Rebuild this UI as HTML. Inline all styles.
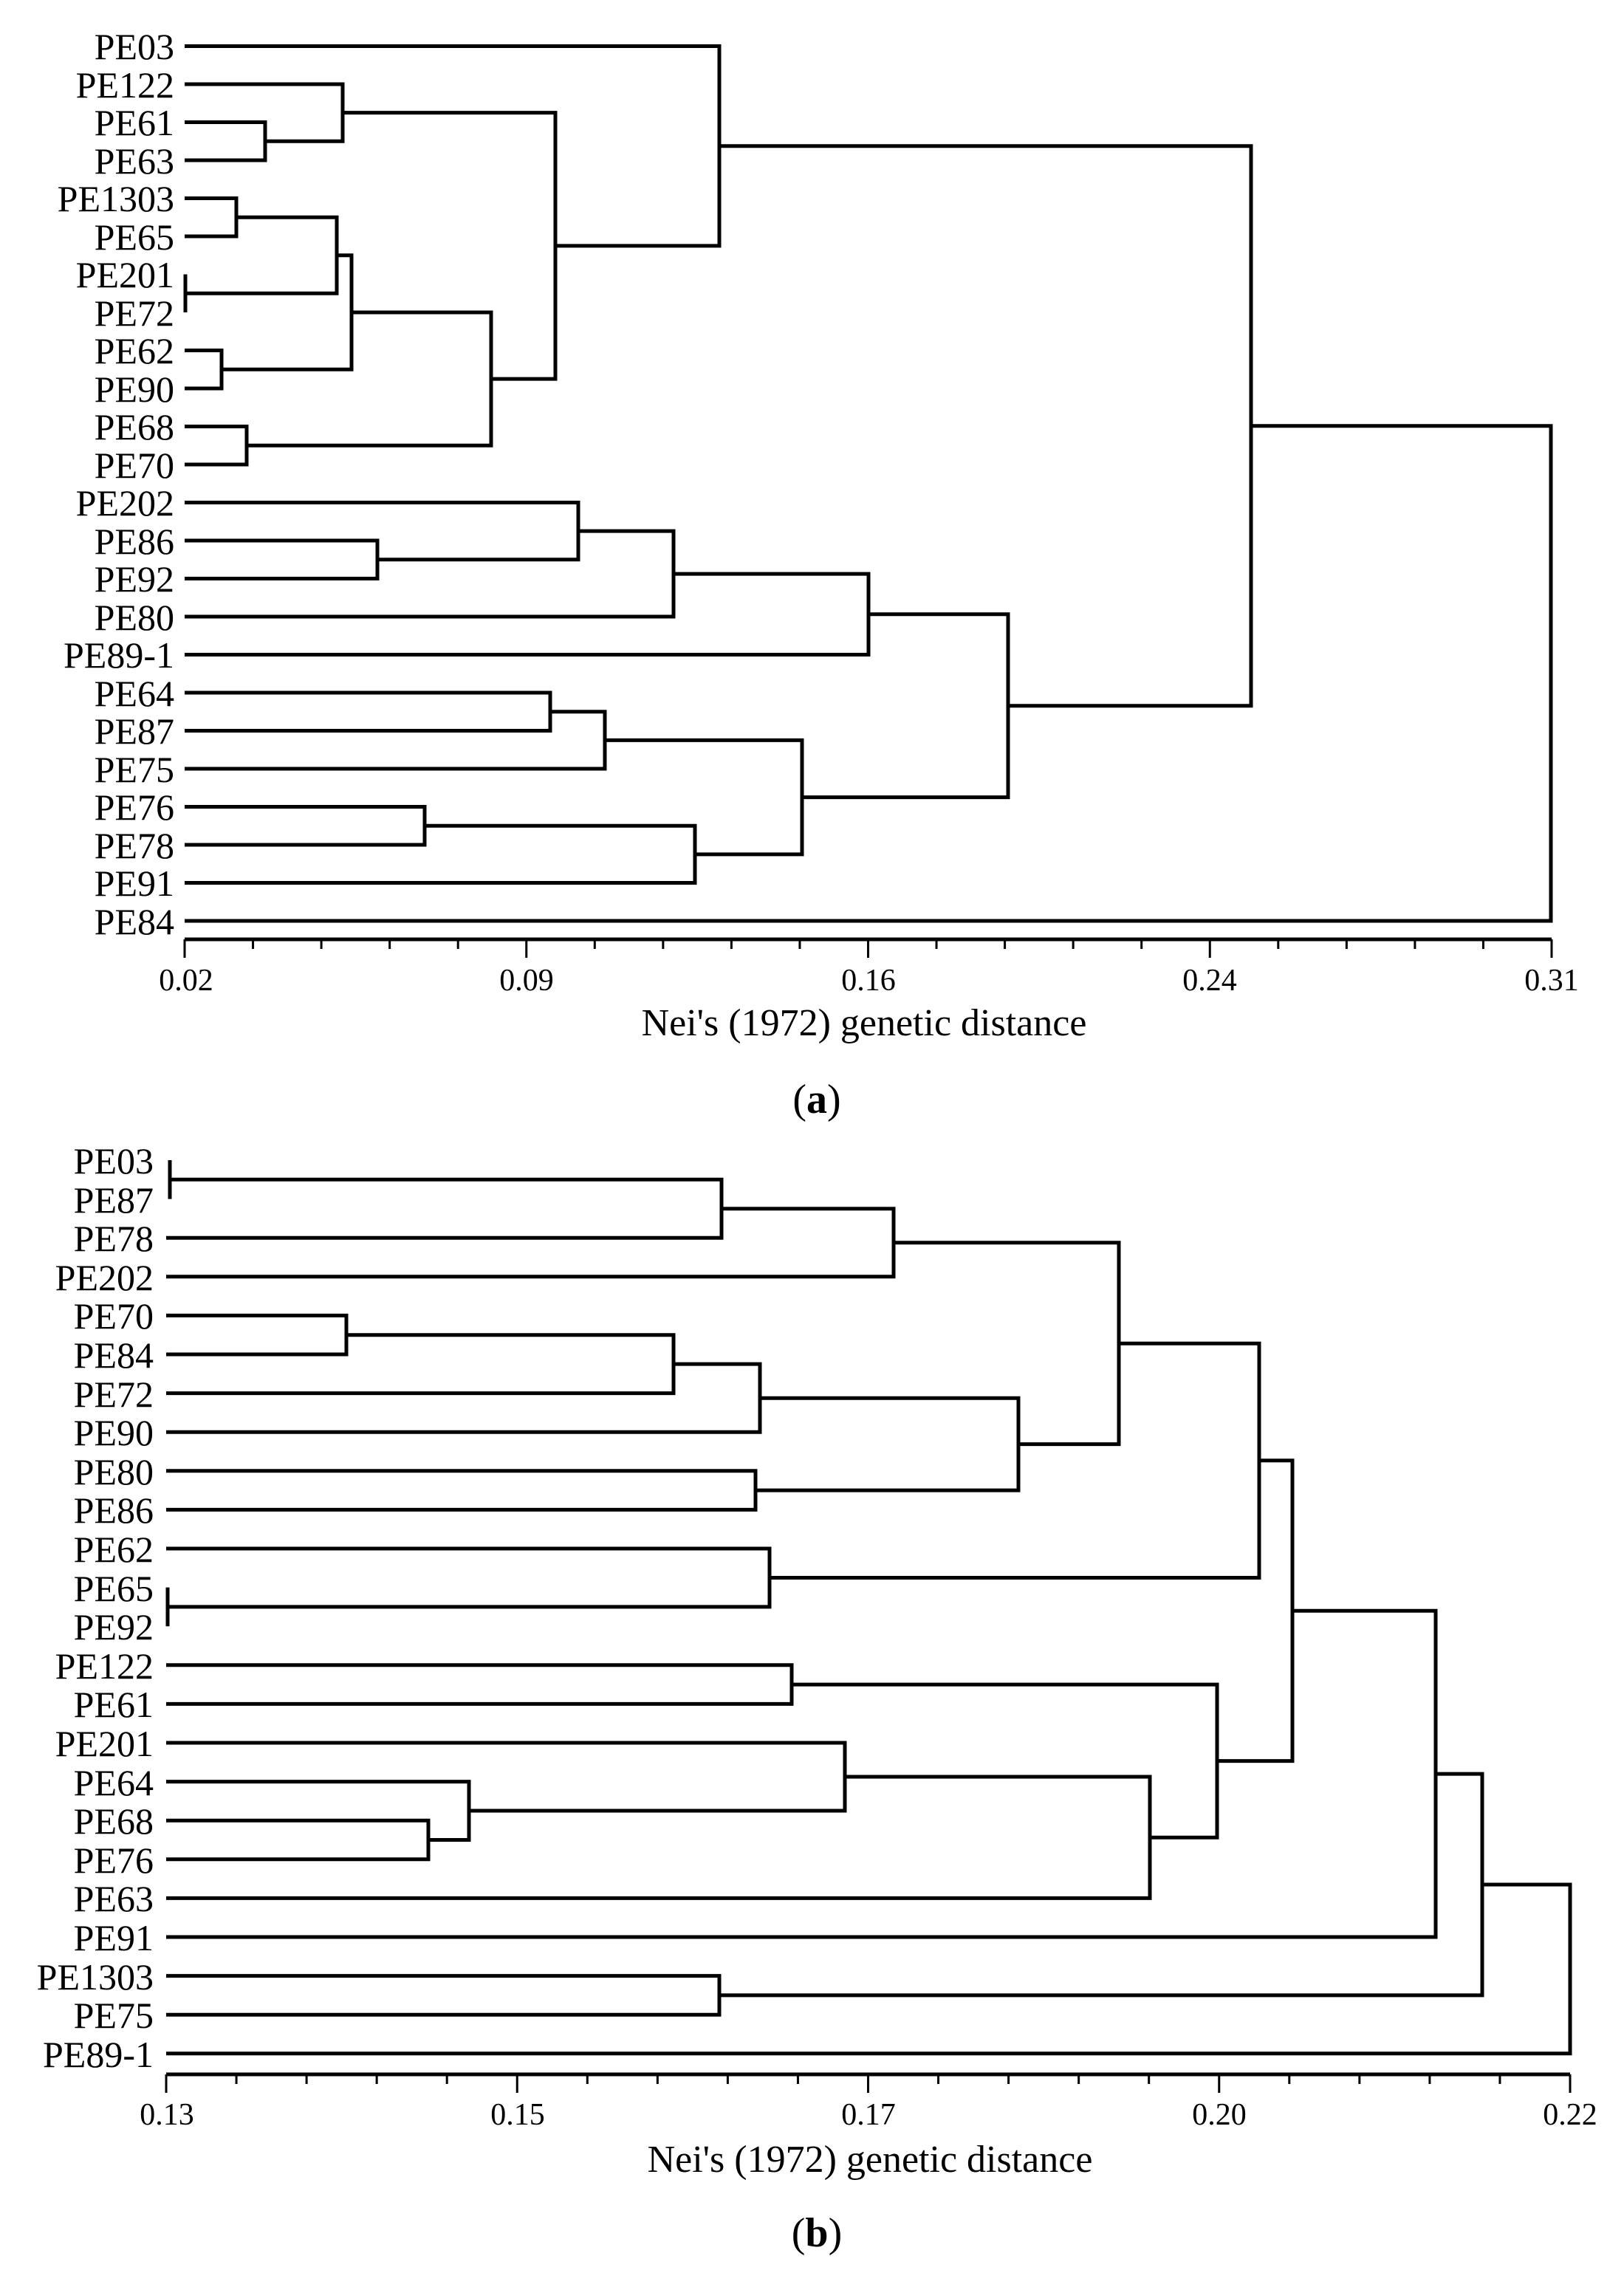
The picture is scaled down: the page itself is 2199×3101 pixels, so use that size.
<!DOCTYPE html>
<html><head><meta charset="utf-8"><style>
html,body{margin:0;padding:0;background:#fff}
svg{display:block}
text{font-family:"Liberation Serif",serif;fill:#000}
.l{font-size:50px;text-anchor:end}
.t{font-size:42px;text-anchor:middle}
.ti{font-size:52px;text-anchor:middle}
.d{fill:none;stroke:#000;stroke-width:5;stroke-linejoin:miter}
.k{fill:none;stroke:#000;stroke-width:3}
</style></head><body>
<svg width="2199" height="3101" viewBox="0 0 2199 3101" xmlns="http://www.w3.org/2000/svg">
<g class="l">
<text x="236" y="80">PE03</text><text x="236" y="132">PE122</text><text x="236" y="183">PE61</text><text x="236" y="235">PE63</text>
<text x="236" y="286">PE1303</text><text x="236" y="338">PE65</text><text x="236" y="389">PE201</text><text x="236" y="441">PE72</text>
<text x="236" y="492">PE62</text><text x="236" y="544">PE90</text><text x="236" y="595">PE68</text><text x="236" y="647">PE70</text>
<text x="236" y="698">PE202</text><text x="236" y="750">PE86</text><text x="236" y="801">PE92</text><text x="236" y="853">PE80</text>
<text x="236" y="904">PE89-1</text><text x="236" y="956">PE64</text><text x="236" y="1007">PE87</text><text x="236" y="1059">PE75</text>
<text x="236" y="1110">PE76</text><text x="236" y="1162">PE78</text><text x="236" y="1213">PE91</text><text x="236" y="1265">PE84</text>
</g>
<g class="d">
<path d="M250 165.5 H359 V217 H250"/><path d="M250 114 H464 V191.25 H359"/><path d="M250 268.5 H320 V320 H250"/>
<path d="M251 371.5 V423"/><path d="M320 294.25 H456 V397.25 H251"/><path d="M250 474.5 H300 V526 H250"/>
<path d="M456 345.75 H476 V500.25 H300"/><path d="M250 577.5 H334 V629 H250"/><path d="M476 423 H665 V603.25 H334"/>
<path d="M464 152.6 H752 V513.1 H665"/><path d="M250 62.5 H974 V332.9 H752"/>
<path d="M250 732 H511 V783.5 H250"/><path d="M250 680.5 H783 V757.75 H511"/><path d="M783 719.1 H912 V835 H250"/>
<path d="M912 777.1 H1176 V886.5 H250"/><path d="M250 938 H745 V989.5 H250"/><path d="M745 963.75 H819 V1041 H250"/>
<path d="M250 1092.5 H575 V1144 H250"/><path d="M575 1118.25 H941 V1195.5 H250"/><path d="M819 1002.4 H1086 V1156.9 H941"/>
<path d="M1176 831.8 H1365 V1079.6 H1086"/><path d="M974 197.7 H1694 V955.7 H1365"/><path d="M1694 576.7 H2100 V1247 H250"/>
<path d="M250 1272 H2101"/>
</g>
<path class="k" d="M250 1272V1297M342.55 1272V1285M435.1 1272V1285M527.65 1272V1285M620.2 1272V1285M712.75 1272V1297M805.3 1272V1285M897.85 1272V1285M990.4 1272V1285M1082.95 1272V1285M1175.5 1272V1297M1268.05 1272V1285M1360.6 1272V1285M1453.15 1272V1285M1545.7 1272V1285M1638.25 1272V1297M1730.8 1272V1285M1823.35 1272V1285M1915.9 1272V1285M2008.45 1272V1285M2101 1272V1297"/>
<g class="t">
<text x="252" y="1341">0.02</text><text x="713" y="1341">0.09</text><text x="1176" y="1341">0.16</text><text x="1638" y="1341">0.24</text><text x="2101" y="1341">0.31</text>
</g>
<text class="ti" x="1170" y="1402">Nei's (1972) genetic distance</text>
<text x="1106" y="1507" style="font-size:56px;text-anchor:middle">(<tspan font-weight="bold">a</tspan>)</text>

<g class="l">
<text x="208" y="1589">PE03</text><text x="208" y="1642">PE87</text><text x="208" y="1694">PE78</text><text x="208" y="1747">PE202</text>
<text x="208" y="1799">PE70</text><text x="208" y="1852">PE84</text><text x="208" y="1905">PE72</text><text x="208" y="1957">PE90</text>
<text x="208" y="2010">PE80</text><text x="208" y="2062">PE86</text><text x="208" y="2115">PE62</text><text x="208" y="2168">PE65</text>
<text x="208" y="2220">PE92</text><text x="208" y="2273">PE122</text><text x="208" y="2325">PE61</text><text x="208" y="2378">PE201</text>
<text x="208" y="2431">PE64</text><text x="208" y="2483">PE68</text><text x="208" y="2536">PE76</text><text x="208" y="2588">PE63</text>
<text x="208" y="2641">PE91</text><text x="208" y="2694">PE1303</text><text x="208" y="2746">PE75</text><text x="208" y="2799">PE89-1</text>
</g>
<g class="d">
<path d="M230 1571 V1623.6"/><path d="M230 1597.3 H977 V1676.2 H225"/><path d="M977 1636.75 H1210 V1728.8 H225"/>
<path d="M225 1781.4 H469 V1834 H225"/><path d="M469 1807.7 H912 V1886.6 H225"/><path d="M912 1847.15 H1029 V1939.2 H225"/>
<path d="M225 1991.8 H1023 V2044.4 H225"/><path d="M1029 1893.2 H1379 V2018.1 H1023"/><path d="M1210 1682.8 H1515 V1955.6 H1379"/>
<path d="M227 2149.6 V2202.2"/><path d="M225 2097 H1042 V2175.9 H227"/><path d="M1515 1819.2 H1705 V2136.45 H1042"/>
<path d="M225 2254.8 H1072 V2307.4 H225"/><path d="M225 2465.2 H580 V2517.8 H225"/><path d="M225 2412.6 H635 V2491.5 H580"/>
<path d="M225 2360 H1144 V2452.05 H635"/><path d="M1144 2406 H1557 V2570.4 H225"/><path d="M1072 2281.1 H1648 V2488.2 H1557"/>
<path d="M1705 1977.8 H1750 V2384.65 H1648"/><path d="M1750 2181.2 H1944 V2623 H225"/><path d="M225 2675.6 H974 V2728.2 H225"/>
<path d="M1944 2402.1 H2007 V2701.9 H974"/><path d="M2007 2552 H2126 V2780.8 H225"/>
<path d="M225 2809 H2126"/>
</g>
<path class="k" d="M225 2809V2834M320.05 2809V2822M415.1 2809V2822M510.15 2809V2822M605.2 2809V2822M700.25 2809V2834M795.3 2809V2822M890.35 2809V2822M985.4 2809V2822M1080.45 2809V2822M1175.5 2809V2834M1270.55 2809V2822M1365.6 2809V2822M1460.65 2809V2822M1555.7 2809V2822M1650.75 2809V2834M1745.8 2809V2822M1840.85 2809V2822M1935.9 2809V2822M2030.95 2809V2822M2126 2809V2834"/>
<g class="t">
<text x="226" y="2877">0.13</text><text x="701" y="2877">0.15</text><text x="1176" y="2877">0.17</text><text x="1651" y="2877">0.20</text><text x="2126" y="2877">0.22</text>
</g>
<text class="ti" x="1178" y="2941">Nei's (1972) genetic distance</text>
<text x="1106" y="3042" style="font-size:56px;text-anchor:middle">(<tspan font-weight="bold">b</tspan>)</text>
</svg>
</body></html>
